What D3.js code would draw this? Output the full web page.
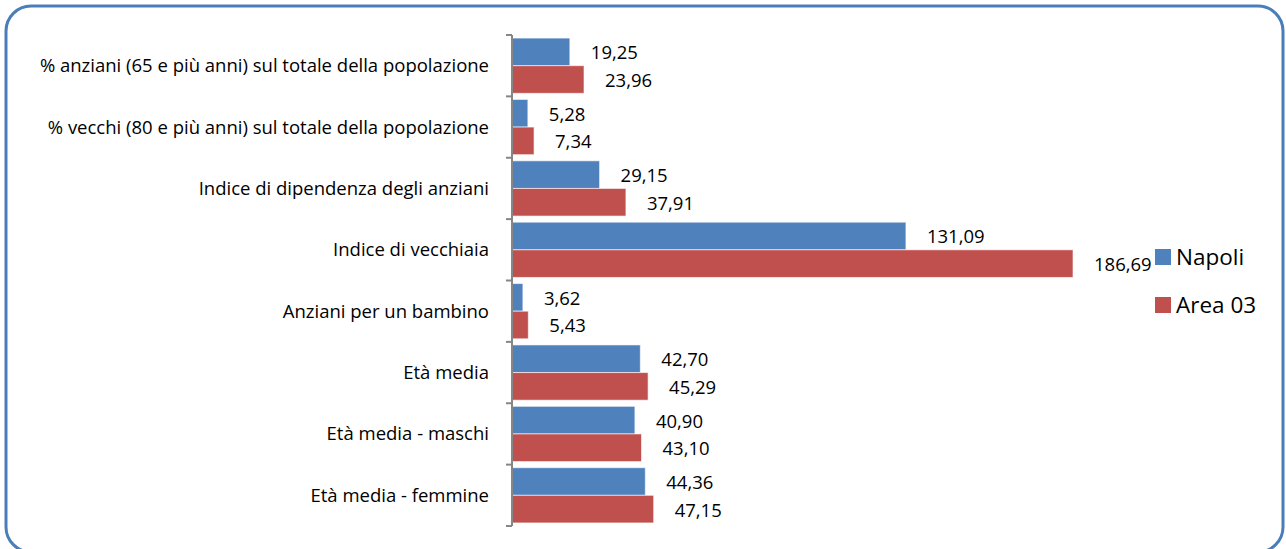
<!DOCTYPE html>
<html>
<head>
<meta charset="utf-8">
<script src="https://cdn.jsdelivr.net/npm/d3@7"></script>
<style>
  body { margin: 0; background: #fff; }
  text { font-family: "Open Sans", sans-serif; fill: #000; }
</style>
</head>
<body>
<div id="chart"></div>
<script>
// data
var categories = [
  "% anziani (65 e più anni) sul totale della popolazione",
  "% vecchi (80 e più anni) sul totale della popolazione",
  "Indice di dipendenza degli anziani",
  "Indice di vecchiaia",
  "Anziani per un bambino",
  "Età media",
  "Età media - maschi",
  "Età media - femmine"
];
var seriesNames = ["Napoli", "Area 03"];
var napoli = [19.25, 5.28, 29.15, 131.09, 3.62, 42.70, 40.90, 44.36];
var area03 = [23.96, 7.34, 37.91, 186.69, 5.43, 45.29, 43.10, 47.15];
var colors = ["#4f81bd", "#c0504d"];

var W = 1286, H = 549;

var svg = d3.select("#chart").append("svg")
    .attr("width", W)
    .attr("height", H);

// outer rounded frame
svg.append("rect")
    .attr("x", 6).attr("y", 6)
    .attr("width", 1277).attr("height", 546)
    .attr("rx", 25).attr("ry", 25)
    .style("fill", "#fff")
    .style("stroke", "#4a7ebb")
    .style("stroke-width", 3);

// scales
var x = d3.scaleLinear().domain([0, 200]).range([512, 512 + 601]);
var y = d3.scaleBand().domain(categories).range([35, 526])
    .paddingInner(0.1).paddingOuter(0.05);
var y1 = d3.scaleBand().domain(seriesNames).range([0, y.bandwidth()]);

// build rows
var rows = categories.map(function(c, i) {
  return { cat: c, values: [
    { name: "Napoli", v: napoli[i] },
    { name: "Area 03", v: area03[i] }
  ]};
});

var g = svg.selectAll("g.cat")
    .data(rows)
  .enter().append("g")
    .attr("class", "cat")
    .attr("transform", function(d) { return "translate(0," + y(d.cat) + ")"; });

g.selectAll("rect")
    .data(function(d) { return d.values; })
  .enter().append("rect")
    .attr("x", x(0))
    .attr("y", function(d) { return y1(d.name); })
    .attr("height", y1.bandwidth())
    .attr("width", function(d) { return x(d.v) - x(0); })
    .style("fill", function(d, i) { return colors[i]; })
    .style("stroke", "rgba(255,255,255,0.6)")
    .style("stroke-width", 1);

g.selectAll("text.val")
    .data(function(d) { return d.values; })
  .enter().append("text")
    .attr("class", "val")
    .attr("x", function(d) { return x(d.v) + 21; })
    .attr("y", function(d) { return y1(d.name) + y1.bandwidth() / 2 + 1; })
    .attr("dy", "0.35em")
    .style("font-size", "18.5px")
    .text(function(d) { return d3.format(".2f")(d.v).replace(".", ","); });

// y axis
var axis = svg.append("g")
    .attr("transform", "translate(" + x(0) + ",0)");

var ticks = d3.range(categories.length + 1).map(function(i) {
  return 35 + i * y.step();
});

axis.append("line")
    .attr("x1", 0).attr("x2", 0)
    .attr("y1", 35).attr("y2", 526)
    .style("stroke", "#868686")
    .style("stroke-width", 2);

axis.selectAll("line.tick")
    .data(ticks)
  .enter().append("line")
    .attr("class", "tick")
    .attr("x1", -6).attr("x2", 0)
    .attr("y1", function(d) { return d; })
    .attr("y2", function(d) { return d; })
    .style("stroke", "#868686")
    .style("stroke-width", 2);

svg.selectAll("text.cat")
    .data(categories)
  .enter().append("text")
    .attr("class", "cat")
    .attr("x", 489)
    .attr("y", function(d) { return y(d) + y.bandwidth() / 2; })
    .attr("dy", "0.35em")
    .attr("text-anchor", "end")
    .style("font-size", "18.5px")
    .text(function(d) { return d; });

// legend
var legend = svg.selectAll("g.legend")
    .data(seriesNames)
  .enter().append("g")
    .attr("class", "legend")
    .attr("transform", function(d, i) { return "translate(1155," + (249 + i * 48) + ")"; });

legend.append("rect")
    .attr("width", 16).attr("height", 16)
    .style("fill", function(d, i) { return colors[i]; });

legend.append("text")
    .attr("x", 21)
    .attr("y", 8)
    .attr("dy", "0.35em")
    .style("font-size", "22.5px")
    .text(function(d) { return d; });
</script>
</body>
</html>
